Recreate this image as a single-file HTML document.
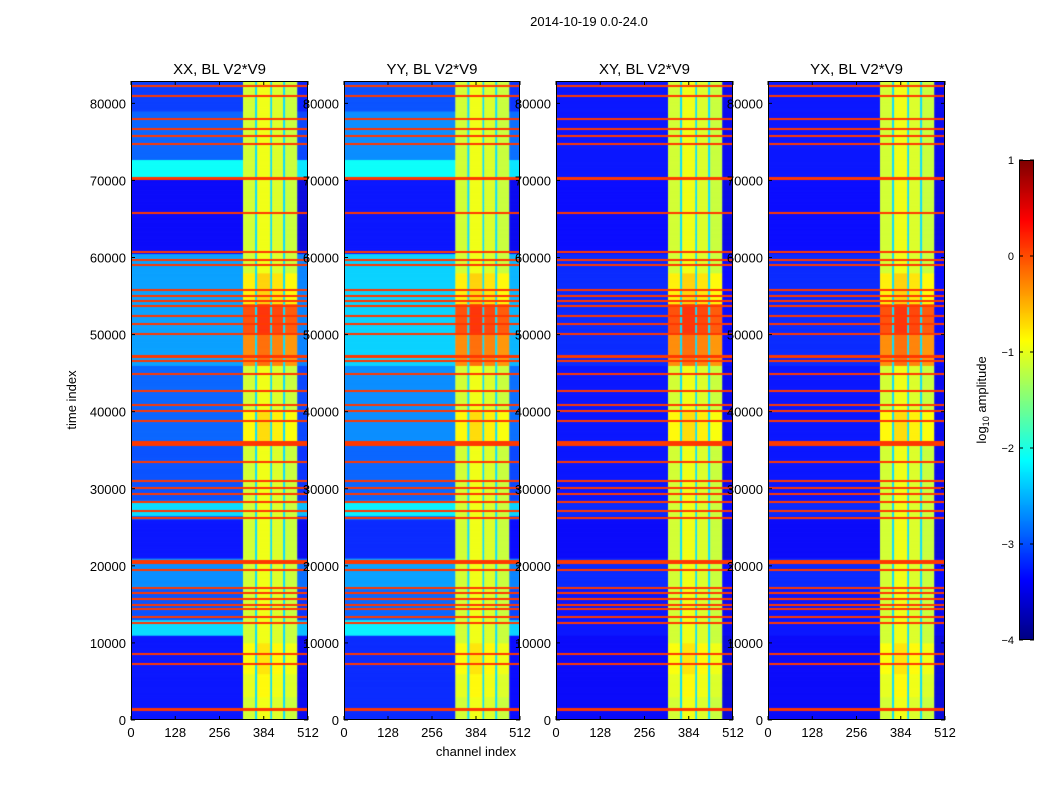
<!DOCTYPE html>
<html><head><meta charset="utf-8">
<style>
html,body{margin:0;padding:0;background:#fff;width:1050px;height:800px;overflow:hidden}
#wrap{position:relative;width:1050px;height:800px}
canvas{position:absolute}
svg{position:absolute;left:0;top:0}
text{font-family:"Liberation Sans",sans-serif;fill:#000}
</style></head>
<body>
<div id="wrap">
<canvas id="c0" width="177" height="639" style="left:131px;top:81px"></canvas>
<canvas id="c1" width="176" height="639" style="left:344px;top:81px"></canvas>
<canvas id="c2" width="177" height="639" style="left:556px;top:81px"></canvas>
<canvas id="c3" width="177" height="639" style="left:768px;top:81px"></canvas>
<canvas id="cb" width="15" height="480" style="left:1019px;top:160px"></canvas>
<svg id="ov" width="1050" height="800"></svg>
</div>
<script>
// ---- data ----
const panelTitles = ["XX, BL V2*V9","YY, BL V2*V9","XY, BL V2*V9","YX, BL V2*V9"];
const xTicks = [0,128,256,384,512];
const yTicks = [0,10000,20000,30000,40000,50000,60000,70000,80000];
const cbTicks = [1,0,-1,-2,-3,-4];
const cbTickLabels = ["1","0","\u22121","\u22122","\u22123","\u22124"];
// channel segments: start, end, log amplitude
const chStart = [0,324,359,365,403,408,440,446,481];
const chEnd   = [324,359,365,403,408,440,446,481,512];
const chLevel = [-3.3,-1.1,-2.3,-0.95,-2.3,-1.05,-2.3,-1.15,-3.3];
// background time bands (low channels) per panel
const bandStart = [0,11000,13000,17000,21000,26000,26500,28500,36000,46000,60500,70500,72700,79000];
const bandEnd   = [11000,13000,17000,21000,26000,26500,28500,36000,46000,60500,70500,72700,79000,83000];
const bandXX = [-3.3,-2.3,-3.0,-2.7,-3.3,-3.0,-2.3,-3.0,-2.9,-2.6,-3.4,-2.1,-2.9,-3.1];
const bandYY = [-3.2,-2.2,-2.9,-2.6,-3.2,-2.9,-2.2,-2.9,-2.7,-2.35,-3.3,-2.1,-2.7,-3.0];
const bandXY = [-3.4,-3.3,-3.3,-3.2,-3.4,-3.3,-3.2,-3.3,-3.3,-3.2,-3.35,-3.3,-3.3,-3.3];
const bandYX = [-3.4,-3.3,-3.3,-3.2,-3.4,-3.3,-3.2,-3.3,-3.3,-3.2,-3.35,-3.3,-3.3,-3.3];
// activity boost in strong channels
const boostStart = [46000,50000,36000,52000,3000,6000];
const boostEnd   = [54000,52000,40000,58000,6000,10000];
const boostVal   = [0.8,0.3,0.25,0.3,0.1,0.2];
// flagged (RFI) rows
const flagStart = [1100,7300,8600,12600,13300,14400,14900,15700,16500,17000,19400,20200,26100,27100,28200,29300,30100,31000,33400,35600,38800,40100,40800,42700,44900,46500,47000,50100,51400,52400,53700,54400,55000,55800,59000,59600,60600,65800,70000,74700,75800,76700,77900,80900,82200];
const flagEnd   = [1500,7450,8750,12750,13450,14550,15050,15850,16650,17250,19550,20700,26300,27250,28350,29450,30250,31150,33550,36200,38950,40250,40950,42850,45050,46700,47350,50250,51550,52550,53850,54550,55200,55950,59150,59750,60800,65950,70450,74850,75950,76850,78050,81050,82350];
const flagLevel = 0.1;

const bands = [bandXX,bandYY,bandXY,bandYX];
const T_MAX = 82900;
const V_MIN = -4, V_MAX = 1;

function jet(v){
  let x=(v-V_MIN)/(V_MAX-V_MIN); x=Math.max(0,Math.min(1,x));
  const c=t=>Math.round(255*Math.max(0,Math.min(1,1.5-Math.abs(t))));
  return `rgb(${c(4*x-3)},${c(4*x-2)},${c(4*x-1)})`;
}
function valueAt(p,seg,t){
  let lv=chLevel[seg];
  if(lv<-2){
    if(seg===0 || seg===chStart.length-1){
      for(let k=0;k<bandStart.length;k++) if(t>=bandStart[k]&&t<bandEnd[k]) lv = seg===0 ? bands[p][k] : bands[p][k]-0.15;
    }
    return lv;
  }
  for(let k=0;k<boostStart.length;k++) if(t>=boostStart[k]&&t<boostEnd[k]) lv+=boostVal[k];
  return lv;
}
function drawPanel(p){
  const cv=document.getElementById('c'+p), ctx=cv.getContext('2d');
  const W=cv.width,H=cv.height;
  const xs=ch=>ch/512*W, ys=t=>H-t/T_MAX*H;
  const step=50;
  for(let t=0;t<T_MAX;t+=step){
    for(let s=0;s<chStart.length;s++){
      ctx.fillStyle=jet(valueAt(p,s,t+step/2));
      const x0=xs(chStart[s]),x1=xs(chEnd[s]);
      ctx.fillRect(x0,ys(t+step),x1-x0,ys(t)-ys(t+step)+0.4);
    }
  }
  ctx.fillStyle=jet(flagLevel);
  for(let k=0;k<flagStart.length;k++){
    const y0=ys(flagEnd[k]), h=Math.max(1.5,ys(flagStart[k])-y0);
    ctx.fillRect(0,Math.round(y0),W,Math.round(h));
  }
}
for(let p=0;p<4;p++) drawPanel(p);
(function(){
  const cv=document.getElementById('cb'),ctx=cv.getContext('2d');
  for(let i=0;i<cv.height;i++){ctx.fillStyle=jet(V_MAX-(V_MAX-V_MIN)*i/cv.height);ctx.fillRect(0,i,cv.width,1);}
})();
const NS="http://www.w3.org/2000/svg", ov=document.getElementById('ov');
function el(tag,attrs,txt){const e=document.createElementNS(NS,tag);for(const k in attrs)e.setAttribute(k,attrs[k]);if(txt!==undefined)e.textContent=txt;ov.appendChild(e);return e;}
const panelX=[131,344,556,768], panelW=[177,176,177,177], axTop=81, axBot=720;
for(let p=0;p<4;p++){
  const x0=panelX[p],w=panelW[p];
  const fr=el('rect',{x:x0+0.5,y:axTop+0.5,width:w-1,height:axBot-axTop-1,fill:'none',stroke:'#000','stroke-width':1});
  
  
  const tt=el('text',{x:x0+w/2,y:74,'text-anchor':'middle','font-size':15},panelTitles[p]);
  
  
  xTicks.forEach(v=>{
    const x=x0+v/512*w;
    el('line',{x1:x,x2:x,y1:axBot,y2:axBot-4,stroke:'#000'});
    el('line',{x1:x,x2:x,y1:axTop,y2:axTop+4,stroke:'#000'});
    const t=el('text',{x:x,y:737,'text-anchor':'middle','font-size':13},String(v));
    
    
  });
  yTicks.forEach(v=>{
    const y=axBot-v/T_MAX*(axBot-axTop);
    el('line',{x1:x0,x2:x0+4,y1:y,y2:y,stroke:'#000'});
    el('line',{x1:x0+w,x2:x0+w-4,y1:y,y2:y,stroke:'#000'});
    const t=el('text',{x:x0-5,y:y+5,'text-anchor':'end','font-size':13},String(v));
    
    
  });
}
const st=el('text',{x:589,y:26,'text-anchor':'middle','font-size':13},"2014-10-19 0.0-24.0");


const xl=el('text',{x:476,y:756,'text-anchor':'middle','font-size':13},"channel index");


const yl=el('text',{x:0,y:0,'text-anchor':'middle','font-size':13,transform:'translate(76,400) rotate(-90)'},"time index");


const cbf=el('rect',{x:1019.5,y:160.5,width:14,height:479,fill:'none',stroke:'#000'});


cbTicks.forEach((v,i)=>{
  const y=160+(V_MAX-v)/(V_MAX-V_MIN)*480;
  el('line',{x1:1019,x2:1023,y1:y,y2:y,stroke:'#000'});
  el('line',{x1:1034,x2:1030,y1:y,y2:y,stroke:'#000'});
  const t=el('text',{x:1014,y:y+4,'text-anchor':'end','font-size':11},cbTickLabels[i]);
  
  
});
const cl=el('text',{x:0,y:0,'text-anchor':'middle','font-size':13,transform:'translate(986,400) rotate(-90)'});


cl.innerHTML='log<tspan font-size="9" dy="3">10</tspan><tspan dy="-3"> amplitude</tspan>';
</script>
</body></html>
